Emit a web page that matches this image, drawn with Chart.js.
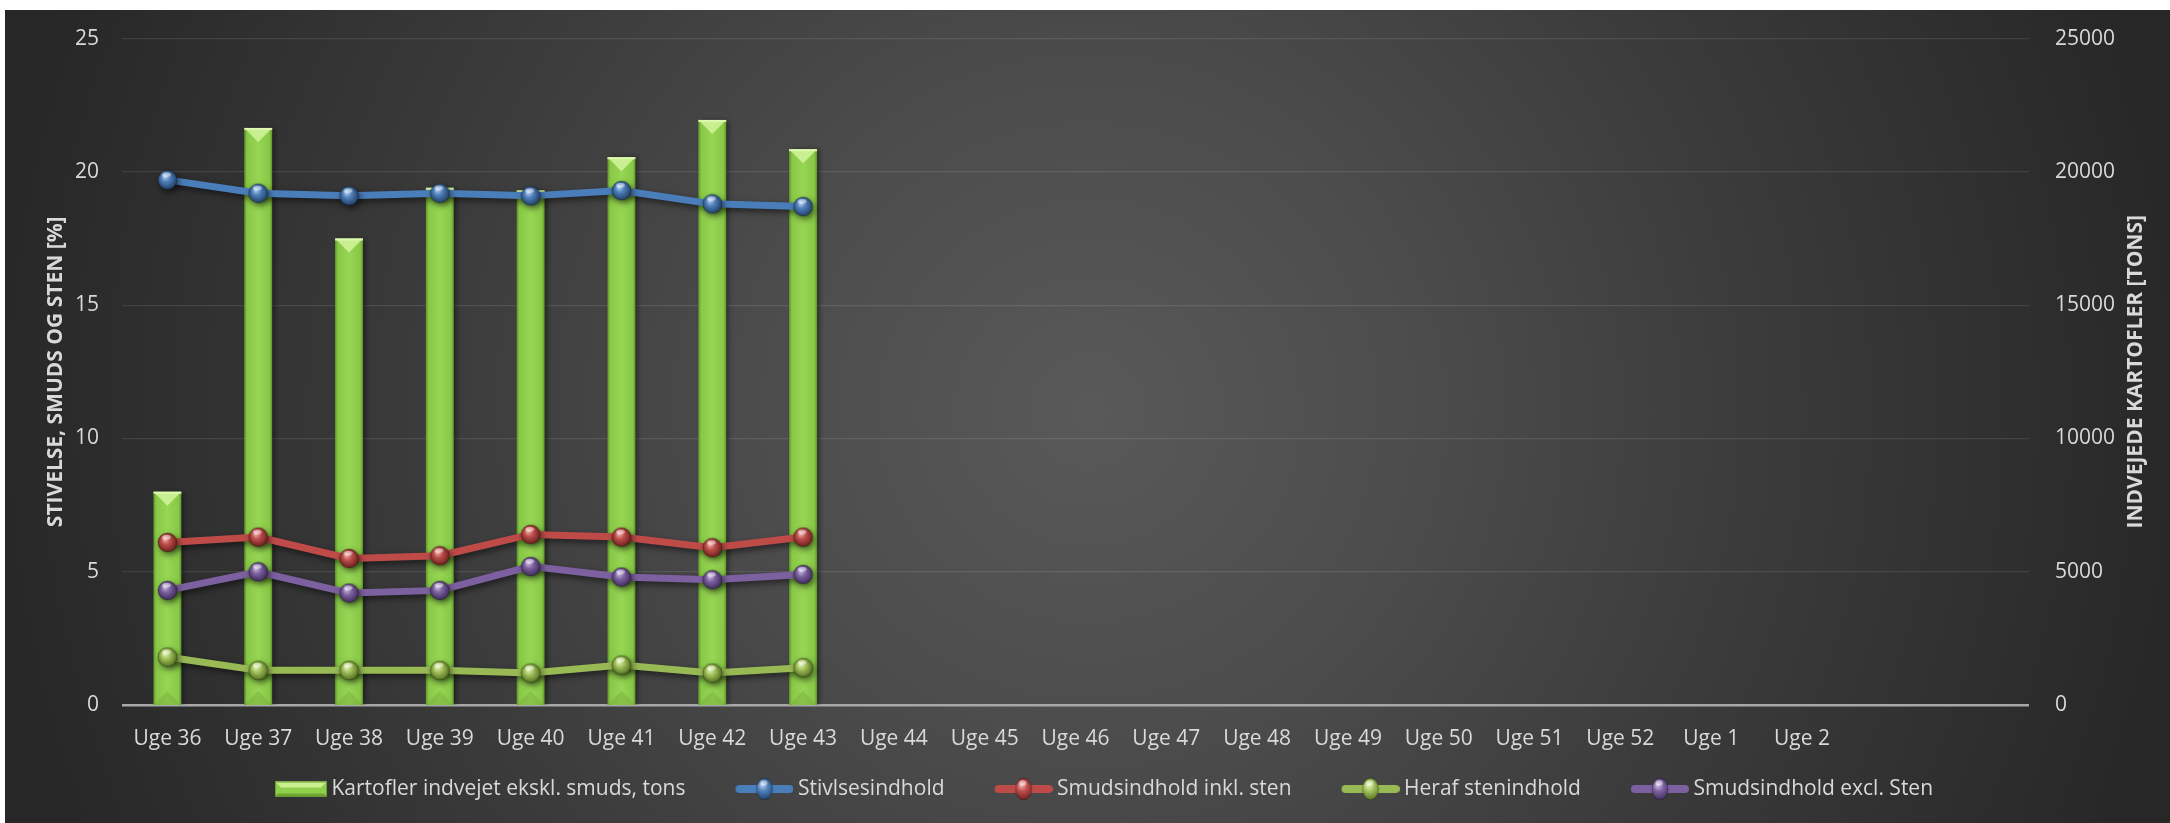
<!DOCTYPE html>
<html>
<head>
<meta charset="utf-8">
<script src="https://cdn.jsdelivr.net/npm/chart.js@4.4.1/dist/chart.umd.min.js"></script>
<style>
html,body{margin:0;padding:0;background:#ffffff;overflow:hidden;}
#wrap{width:2170px;height:823px;position:relative;}
</style>
</head>
<body>
<div id="wrap"><canvas id="c"></canvas></div>
<script>
// ---------- data ----------
const categories = ['Uge 36','Uge 37','Uge 38','Uge 39','Uge 40','Uge 41','Uge 42','Uge 43','Uge 44','Uge 45','Uge 46','Uge 47','Uge 48','Uge 49','Uge 50','Uge 51','Uge 52','Uge 1','Uge 2','',''];
const seriesNames = ['Kartofler indvejet ekskl. smuds, tons','Stivlsesindhold','Smudsindhold inkl. sten','Heraf stenindhold','Smudsindhold excl. Sten'];
const kartofler   = [8000, 21650, 17500, 19400, 19300, 20550, 21950, 20850];
const stivelse    = [19.7, 19.2, 19.1, 19.2, 19.1, 19.3, 18.8, 18.7];
const smudsInkl   = [6.1, 6.3, 5.5, 5.6, 6.4, 6.3, 5.9, 6.3];
const stenindhold = [1.8, 1.3, 1.3, 1.3, 1.2, 1.5, 1.2, 1.4];
const smudsExcl   = [4.3, 5.0, 4.2, 4.3, 5.2, 4.8, 4.7, 4.9];
const leftAxisTitle  = 'STIVELSE, SMUDS OG STEN [%]';
const rightAxisTitle = 'INDVEJEDE KARTOFLER [TONS]';
const leftMax = 25, leftStep = 5;
const rightMax = 25000, rightStep = 5000;

// ---------- styles ----------
const TEXT = '#d9d9d9';
const FONT = '"Open Sans", "DejaVu Sans", sans-serif';
const BAR_FRAC = 0.308;
const palette = [
  {line:'#4a7ebb', base:'#4f81bd', light:'#c4d8f2', dark:'#25446b'},
  {line:'#be4b48', base:'#c0504d', light:'#f5c0be', dark:'#722220'},
  {line:'#98b954', base:'#a5c45f', light:'#eefacb', dark:'#5a7624'},
  {line:'#7d60a0', base:'#8064a2', light:'#d6c8ea', dark:'#432e60'}
];

function drawBall(g, cx, cy, rx, ry, p){
  g.save();
  const grd = g.createRadialGradient(cx - rx*0.3, cy - ry*0.4, 0, cx, cy, Math.max(rx, ry)*1.2);
  grd.addColorStop(0, p.light);
  grd.addColorStop(0.38, p.base);
  grd.addColorStop(0.85, p.dark);
  g.beginPath(); g.ellipse(cx, cy, rx, ry, 0, 0, Math.PI*2);
  g.fillStyle = grd; g.fill();
  g.lineWidth = 0.8; g.strokeStyle = 'rgba(0,0,0,0.35)'; g.stroke();
  g.beginPath(); g.ellipse(cx - rx*0.1, cy - ry*0.55, rx*0.45, ry*0.25, 0, 0, Math.PI*2);
  g.fillStyle = 'rgba(255,255,255,0.5)'; g.fill();
  g.restore();
}
function makeBall(p, w, h){
  const c = document.createElement('canvas'); c.width = w; c.height = h;
  drawBall(c.getContext('2d'), w/2, h/2, w/2 - 1, h/2 - 1, p);
  return c;
}
function makeLineIcon(p){
  const c = document.createElement('canvas'); c.width = 97; c.height = 24;
  const g = c.getContext('2d');
  g.strokeStyle = p.line; g.lineWidth = 8; g.lineCap = 'round';
  g.beginPath(); g.moveTo(43, 12); g.lineTo(93, 12); g.stroke();
  drawBall(g, 68, 12, 8, 11, p);
  return c;
}
function makeBarIcon(){
  const c = document.createElement('canvas'); c.width = 97; c.height = 24;
  const g = c.getContext('2d');
  const x = 45, y = 4.5, w = 52, h = 15;
  g.fillStyle = '#8fcf4c'; g.fillRect(x, y, w, h);
  g.fillStyle = '#c9ef8e';
  g.beginPath(); g.moveTo(x, y); g.lineTo(x+w, y); g.lineTo(x+w-6, y+6); g.lineTo(x+6, y+6); g.closePath(); g.fill();
  g.fillStyle = '#6ea832';
  g.beginPath(); g.moveTo(x, y+h); g.lineTo(x+w, y+h); g.lineTo(x+w-3, y+h-3); g.lineTo(x+3, y+h-3); g.closePath(); g.fill();
  g.strokeStyle = '#6a9f32'; g.lineWidth = 1; g.strokeRect(x+0.5, y+0.5, w-1, h-1);
  return c;
}
const pointImgs = palette.map(p => makeBall(p, 21, 21));
const legendIcons = [makeBarIcon()].concat(palette.map(makeLineIcon));

// ---------- plugins ----------
const bgPlugin = {
  id: 'bg',
  beforeDraw(chart){
    const {ctx, width, height} = chart;
    ctx.save();
    ctx.fillStyle = '#ffffff'; ctx.fillRect(0, 0, width, height);
    const cx = width*0.502, cy = height*0.5;
    const g = ctx.createRadialGradient(cx, cy, 0, cx, cy, width*0.51);
    g.addColorStop(0, '#595959');
    g.addColorStop(0.3, '#4c4c4c');
    g.addColorStop(0.6, '#3b3b3b');
    g.addColorStop(1, '#272727');
    ctx.fillStyle = g; ctx.fillRect(5, 10, width - 5, height - 10);
    ctx.restore();
  }
};
const shadowPlugin = {
  id: 'shadow',
  beforeDatasetDraw(chart, args){
    const ctx = chart.ctx; ctx.save();
    if (args.meta.type === 'line'){
      ctx.shadowColor = 'rgba(0,0,0,0.55)'; ctx.shadowBlur = 6; ctx.shadowOffsetX = 2; ctx.shadowOffsetY = 3;
    } else {
      ctx.shadowColor = 'rgba(0,0,0,0.45)'; ctx.shadowBlur = 5; ctx.shadowOffsetX = 3; ctx.shadowOffsetY = 0;
    }
  },
  afterDatasetDraw(chart){ chart.ctx.restore(); }
};
const bevelPlugin = {
  id: 'bevel',
  afterDatasetDraw(chart, args){
    if (args.meta.type !== 'bar') return;
    const ctx = chart.ctx;
    args.meta.data.forEach(el => {
      const {x, y, base, width} = el.getProps(['x','y','base','width'], true);
      if (!isFinite(y) || !isFinite(base) || base - y < 4) return;
      const l = x - width/2, r = x + width/2;
      const d = Math.min(width*0.5, (base - y)/2);
      ctx.save();
      ctx.fillStyle = 'rgba(214,246,160,0.8)';
      ctx.beginPath(); ctx.moveTo(l, y); ctx.lineTo(r, y); ctx.lineTo(x, y + d); ctx.closePath(); ctx.fill();
      ctx.fillStyle = 'rgba(225,250,180,0.9)';
      ctx.fillRect(l, y, width, 2);
      ctx.fillStyle = 'rgba(120,170,60,0.45)';
      ctx.beginPath(); ctx.moveTo(l, base); ctx.lineTo(r, base); ctx.lineTo(x, base - d); ctx.closePath(); ctx.fill();
      ctx.restore();
    });
  }
};
const rightTitlePlugin = {
  id: 'rightTitle',
  afterDraw(chart){
    const ctx = chart.ctx, a = chart.chartArea, s = chart.scales.y1;
    ctx.save();
    ctx.font = 'bold 21px ' + FONT;
    ctx.fillStyle = TEXT; ctx.textAlign = 'center'; ctx.textBaseline = 'middle';
    ctx.translate(s.right - 28, (a.top + a.bottom)/2);
    ctx.rotate(-Math.PI/2);
    ctx.fillText(rightAxisTitle, 0, 0);
    ctx.restore();
  }
};

// ---------- chart ----------
function barFill(c){
  const chart = c.chart, xs = chart.scales && chart.scales.x;
  if (!xs || c.type !== 'data') return '#8fcf4c';
  const x = xs.getPixelForValue(c.dataIndex);
  const w = xs.width / categories.length * BAR_FRAC;
  if (!isFinite(x) || !isFinite(w) || w <= 0) return '#8fcf4c';
  const g = chart.ctx.createLinearGradient(x - w/2, 0, x + w/2, 0);
  g.addColorStop(0, '#5f942b');
  g.addColorStop(0.1, '#88c846');
  g.addColorStop(0.5, '#97d654');
  g.addColorStop(0.9, '#88c846');
  g.addColorStop(1, '#5f942b');
  return g;
}
const lineSeries = [stivelse, smudsInkl, stenindhold, smudsExcl];
const datasets = [{
  type: 'bar', label: seriesNames[0], data: kartofler, yAxisID: 'y1', order: 2,
  backgroundColor: barFill, borderWidth: 0,
  barPercentage: BAR_FRAC, categoryPercentage: 1
}].concat(lineSeries.map((d, i) => ({
  type: 'line', label: seriesNames[i+1], data: d, yAxisID: 'y', order: 1,
  borderColor: palette[i].line, borderWidth: 7, tension: 0, fill: false,
  pointStyle: pointImgs[i], pointRadius: 10, pointHoverRadius: 10,
  backgroundColor: palette[i].base
})));

const tickFont = {family: FONT, size: 21};
new Chart(document.getElementById('c'), {
  type: 'bar',
  data: {labels: categories, datasets},
  plugins: [bgPlugin, shadowPlugin, bevelPlugin, rightTitlePlugin],
  options: {
    responsive: true, maintainAspectRatio: false, animation: false,
    devicePixelRatio: 1,
    layout: {padding: {left: 5, top: 36, right: 6, bottom: 13.5}},
    plugins: {
      tooltip: {enabled: false},
      legend: {
        position: 'bottom',
        labels: {
          usePointStyle: true, pointStyleWidth: 85, boxHeight: 21, padding: 17,
          color: TEXT, font: {family: FONT, size: 21},
          sort: (a, b) => a.datasetIndex - b.datasetIndex,
          generateLabels(chart){
            const items = Chart.defaults.plugins.legend.labels.generateLabels(chart);
            items.forEach(it => { it.pointStyle = legendIcons[it.datasetIndex]; it.fontColor = TEXT; it.lineWidth = 0; it.rotation = 0; });
            return items;
          }
        }
      }
    },
    scales: {
      x: {
        offset: true,
        grid: {display: false, drawTicks: false},
        border: {display: false},
        ticks: {color: TEXT, font: tickFont, padding: 21, autoSkip: false, maxRotation: 0, minRotation: 0},
        afterFit(s){ s.height = 56.5; }
      },
      y: {
        position: 'left', min: 0, max: leftMax,
        ticks: {stepSize: leftStep, color: TEXT, font: tickFont, padding: 23},
        grid: {
          drawTicks: false,
          color: c => c.tick && c.tick.value === 0 ? '#a8a8a8' : 'rgba(255,255,255,0.1)',
          lineWidth: c => c.tick && c.tick.value === 0 ? 2.5 : 1.3
        },
        border: {display: false},
        title: {display: true, text: leftAxisTitle, color: TEXT, font: {family: FONT, size: 21, weight: 'bold'}, padding: {top: 38, bottom: 0}},
        afterFit(s){ s.width = 117; }
      },
      y1: {
        position: 'right', min: 0, max: rightMax,
        ticks: {stepSize: rightStep, color: TEXT, font: tickFont, padding: 26, callback: v => String(v)},
        grid: {display: false, drawTicks: false},
        border: {display: false},
        afterFit(s){ s.width = 135; }
      }
    }
  }
});
</script>
</body>
</html>
